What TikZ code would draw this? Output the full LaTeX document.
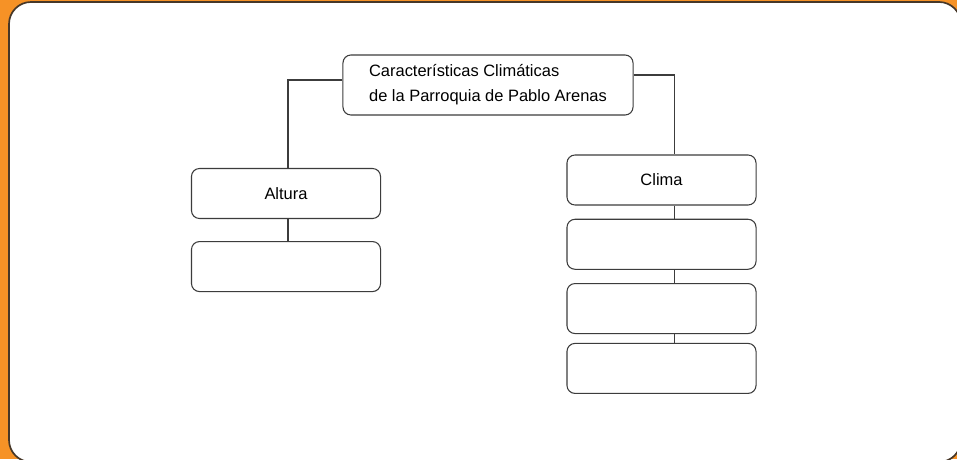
\documentclass[tikz,border=0pt]{standalone}
\usepackage{fontspec}
\setmainfont{Liberation Sans}
\usetikzlibrary{positioning}

\definecolor{frameorange}{RGB}{246,146,38}
\definecolor{frameedge}{RGB}{70,55,40}
\definecolor{linegray}{RGB}{60,60,60}

\tikzset{
    box/.style={draw=linegray, line width=0.75pt, rounded corners=0.2cm,
        minimum width=4.725cm, minimum height=1.25cm, inner sep=0pt,
        font=\fontsize{11.7}{17.7}\selectfont},
    titlebox/.style={box, minimum width=7.25cm, minimum height=1.5cm, align=left},
    link/.style={draw=linegray, line width=0.75pt}
}

\begin{document}
\begin{tikzpicture}[x=0.025cm, y=-0.025cm, node distance=0.33cm]
    \useasboundingbox (0,0) rectangle (957,459);
    \clip (0,0) rectangle (957,459);
    \fill[frameorange] (0,0) rectangle (957,459);
    \draw[fill=white, draw=frameedge, line width=1.2pt, rounded corners=0.55cm] (9,2) rectangle (961,462);

    \node[titlebox] (carac) at (488,85) {Características Climáticas\\de la Parroquia de Pablo Arenas};
    \node[box] (altura) at (286,193.5) {Altura};
    \node[box] (alt1) [below=0.55cm of altura] {};

    \node[box] (clima) at (661.5,180) {Clima};
    \node[box] (clima1) [below=of clima] {};
    \node[box] (clima2) [below=of clima1] {};
    \node[box] (clima3) [below=0.22cm of clima2] {};

    \path[link]
    ([yshift=0.125cm]carac.west) -| ([xshift=0.05cm]altura.north)
    ([yshift=0.25cm]carac.east) -| ([xshift=0.325cm]clima.north)
    ([xshift=0.05cm]altura.south) -- ([xshift=0.05cm]alt1.north)
    ([xshift=0.325cm]clima.south) -- ([xshift=0.325cm]clima1.north)
    ([xshift=0.325cm]clima1.south) -- ([xshift=0.325cm]clima2.north)
    ([xshift=0.325cm]clima2.south) -- ([xshift=0.325cm]clima3.north);
\end{tikzpicture}
\end{document}
